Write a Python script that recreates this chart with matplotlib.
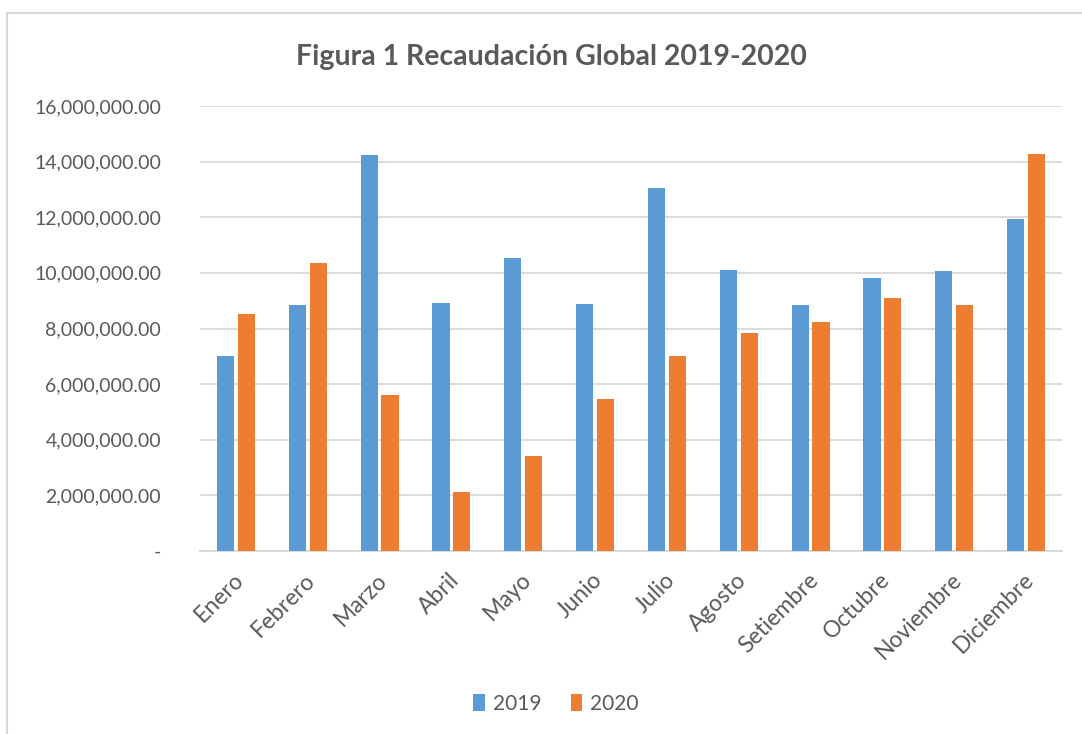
import matplotlib.pyplot as plt
import matplotlib.transforms as mtransforms
import numpy as np
from matplotlib.patches import Rectangle

meses = ['Enero', 'Febrero', 'Marzo', 'Abril', 'Mayo', 'Junio', 'Julio',
         'Agosto', 'Setiembre', 'Octubre', 'Noviembre', 'Diciembre']
rec_2019 = [7.01e6, 8.85e6, 14.25e6, 8.92e6, 10.54e6, 8.88e6, 13.06e6,
            10.11e6, 8.85e6, 9.82e6, 10.07e6, 11.94e6]
rec_2020 = [8.52e6, 10.35e6, 5.61e6, 2.12e6, 3.41e6, 5.46e6, 7.01e6,
            7.84e6, 8.22e6, 9.10e6, 8.85e6, 14.29e6]
y_ticks = [0, 2e6, 4e6, 6e6, 8e6, 10e6, 12e6, 14e6, 16e6]

azul = '#5b9bd5'
naranja = '#ed7d31'
gris = '#595959'

plt.rcParams['font.family'] = ['Lato', 'DejaVu Sans']

fig = plt.figure(figsize=(10.82, 7.34), dpi=100)
# marco del grafico
fig.patches.append(Rectangle((7 / 1082, -0.01), 1.1, 1 - 13 / 734 + 0.01,
                             transform=fig.transFigure, fill=False,
                             edgecolor='#d9d9d9', linewidth=1.5))

ax = fig.add_axes([200 / 1082, 1 - 551 / 734, 862 / 1082, (551 - 106) / 734])

x = np.arange(len(meses))
w = 0.24
ax.bar(x - 0.145, rec_2019, w, color=azul, label='2019', zorder=3)
ax.bar(x + 0.145, rec_2020, w, color=naranja, label='2020', zorder=3)

ax.set_xlim(-0.5, len(meses) - 0.5)
ax.set_ylim(0, 16e6)
ax.set_yticks(y_ticks)
ax.set_yticklabels(['-' if v == 0 else f'{v:,.2f}' for v in y_ticks])
ax.yaxis.grid(True, color='#d9d9d9', linewidth=1.3, zorder=0)
ax.set_xticks(x)
ax.set_xticklabels(meses, rotation=45, ha='right', rotation_mode='anchor')
ax.tick_params(axis='both', length=0, labelsize=14, colors=gris)
ax.tick_params(axis='x', labelsize=16.5, pad=13)
ax.tick_params(axis='y', pad=28)
# ajustar posicion de etiquetas del eje x
shift = mtransforms.ScaledTranslation(-3 / 100, 0, fig.dpi_scale_trans)
for lbl in ax.get_xticklabels():
    lbl.set_transform(lbl.get_transform() + shift)
for s in ['top', 'right', 'left']:
    ax.spines[s].set_visible(False)
ax.spines['bottom'].set_color('#d9d9d9')
ax.spines['bottom'].set_linewidth(1.3)

fig.text(551 / 1082, 1 - 57 / 734, 'Figura 1 Recaudación Global 2019-2020',
         ha='center', va='center', fontsize=20.5, fontweight='bold', color=gris)

fig.legend(loc='center', bbox_to_anchor=(556 / 1082, 1 - 704 / 734), ncol=2,
           frameon=False, fontsize=15, handlelength=0.55, handleheight=0.9,
           handletextpad=0.4, columnspacing=1.4, labelcolor=gris)

fig.savefig('out.png', dpi=100)
